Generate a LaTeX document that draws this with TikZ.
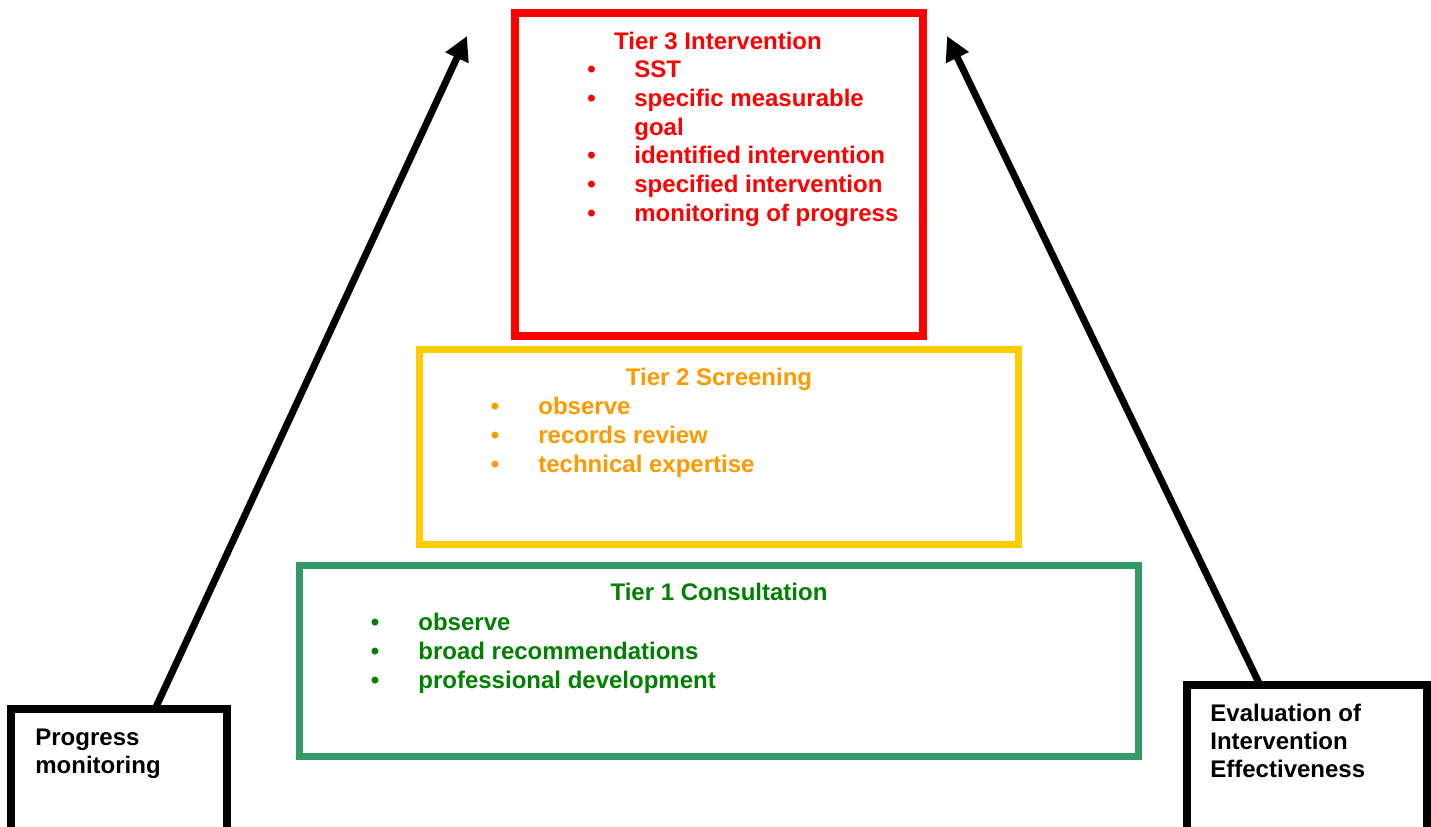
\documentclass[tikz,border=0pt]{standalone}
\usepackage{fontspec}
\setmainfont{Liberation Sans}
\usetikzlibrary{arrows.meta}
\definecolor{tredb}{HTML}{FF0000}
\definecolor{tyelb}{HTML}{FFCC00}
\definecolor{torng}{HTML}{FF9900}
\definecolor{tgrnb}{HTML}{339966}
\definecolor{tgrnt}{HTML}{008000}
\tikzset{
  tierbox/.style={draw, inner sep=0pt, fill=none},
  txt/.style={inner sep=0pt, anchor=base west, font=\fontsize{12pt}{14pt}\selectfont\bfseries},
  ttl/.style={inner sep=0pt, anchor=base, font=\fontsize{12pt}{14pt}\selectfont\bfseries},
  bul/.style={inner sep=0pt, anchor=base, font=\fontsize{12pt}{14pt}\selectfont\bfseries},
  bigarrow/.style={line width=3.5pt, -{Triangle[length=12pt,width=12pt]}},
}
\begin{document}
\begin{tikzpicture}[x=0.5pt,y=-0.5pt]
\clip (0,0) rectangle (1431,826);
\fill[white] (0,0) rectangle (1431,826);
% boxes
\node[tierbox, draw=tredb, line width=4pt, minimum width=204pt, minimum height=161.25pt] (t3) at (719,174.25) {};
\node[tierbox, draw=tyelb, line width=3.5pt, minimum width=299.5pt, minimum height=97.5pt] (t2) at (719,447) {};
\node[tierbox, draw=tgrnb, line width=3.5pt, minimum width=419.5pt, minimum height=95.5pt] (t1) at (719,661) {};
\node[tierbox, draw=black, line width=4pt, minimum width=108.25pt, minimum height=95.5pt] (pm) at (118.75,804.5) {};
\node[tierbox, draw=black, line width=4pt, minimum width=120pt, minimum height=107.5pt] (ev) at (1307,792.5) {};
% tier 3 text
\begin{scope}[text=tredb]
\node[ttl] (t3t) at (718,49) {Tier 3 Intervention};
\node[bul] (t3b1) at (591.5,77.7) {•};
\node[txt] (t3i1) at (634,77.7) {SST};
\node[bul] (t3b2) at (591.5,106.4) {•};
\node[txt] (t3i2) at (634,106.4) {specific measurable};
\node[txt] (t3i2b) at (634,135.1) {goal};
\node[bul] (t3b3) at (591.5,163.8) {•};
\node[txt] (t3i3) at (634,163.8) {identified intervention};
\node[bul] (t3b4) at (591.5,192.5) {•};
\node[txt] (t3i4) at (634,192.5) {specified intervention};
\node[bul] (t3b5) at (591.5,221.2) {•};
\node[txt] (t3i5) at (634,221.2) {monitoring of progress};
\end{scope}
% tier 2 text
\begin{scope}[text=torng]
\node[ttl] (t2t) at (719,385) {Tier 2 Screening};
\node[bul] (t2b1) at (495,414) {•};
\node[txt] (t2i1) at (538,414) {observe};
\node[bul] (t2b2) at (495,443) {•};
\node[txt] (t2i2) at (538,443) {records review};
\node[bul] (t2b3) at (495,472.5) {•};
\node[txt] (t2i3) at (538,472.5) {technical expertise};
\end{scope}
% tier 1 text
\begin{scope}[text=tgrnt]
\node[ttl] (t1t) at (719,600) {Tier 1 Consultation};
\node[bul] (t1b1) at (375,630) {•};
\node[txt] (t1i1) at (418,630) {observe};
\node[bul] (t1b2) at (375,659) {•};
\node[txt] (t1i2) at (418,659) {broad recommendations};
\node[bul] (t1b3) at (375,688) {•};
\node[txt] (t1i3) at (418,688) {professional development};
\end{scope}
% side boxes text
\node[txt] (pm1) at (35,745) {Progress};
\node[txt] (pm2) at (35,773) {monitoring};
\node[txt] (ev1) at (1210,721) {Evaluation of};
\node[txt] (ev2) at (1210,749) {Intervention};
\node[txt] (ev3) at (1210,777.5) {Effectiveness};
% arrows
\coordinate (a1s) at (156,707);
\coordinate (a1e) at (467,36);
\coordinate (a2s) at (1259,683);
\coordinate (a2e) at (947,36);
\draw[bigarrow] (a1s) -- (a1e);
\draw[bigarrow] (a2s) -- (a2e);
\end{tikzpicture}
\end{document}
